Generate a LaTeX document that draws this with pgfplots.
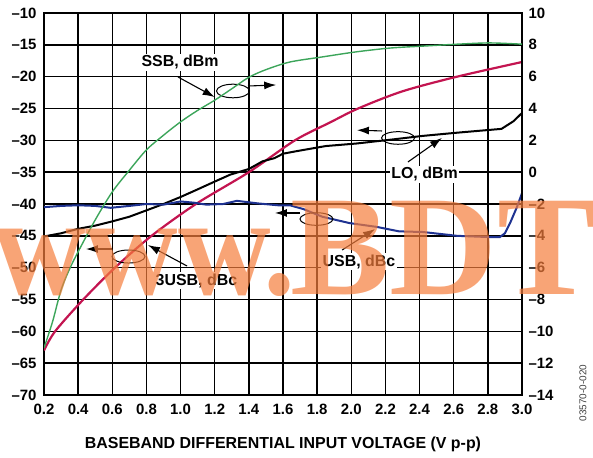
\documentclass[border=0pt]{standalone}
\usepackage{fontspec}
\setmainfont{Liberation Sans}
\newfontfamily\wmfont{Liberation Serif}
\usepackage{pgfplots}
\pgfplotsset{compat=1.18}
\usetikzlibrary{arrows.meta}
\definecolor{cgreen}{RGB}{60,165,90}
\definecolor{cred}{RGB}{195,20,80}
\definecolor{cblue}{RGB}{30,50,145}
\definecolor{wm}{RGB}{245,125,60}
\begin{document}
\begin{tikzpicture}
\useasboundingbox (-44bp,-63bp) rectangle (549bp,395bp);
\pgfplotsset{
  base/.style={scale only axis, width=478bp, height=382bp,
    xmin=0.2, xmax=3.0,
    major tick length=0pt,
    /pgf/number format/assume math mode=true,
    tick label style={font=\bfseries\fontsize{15}{17}\selectfont},
  }
}
\begin{axis}[base,
  ymin=-70, ymax=-10,
  xtick={0.2,0.4,0.6,0.8,1.0,1.2,1.4,1.6,1.8,2.0,2.2,2.4,2.6,2.8,3.0},
  xticklabels={0.2,0.4,0.6,0.8,1.0,1.2,1.4,1.6,1.8,2.0,2.2,2.4,2.6,2.8,3.0},
  ytick={-70,-65,-60,-55,-50,-45,-40,-35,-30,-25,-20,-15,-10},
  yticklabels={–70,–65,–60,–55,–50,–45,–40,–35,–30,–25,–20,–15,–10},
  yticklabel style={xshift=-4bp},
  xticklabel style={yshift=-6bp},
  grid=major,
  major grid style={black, line width=1.4bp},
  axis line style={black, line width=2.2bp},
]
% 3USB, dBc (left axis)
\addplot[cred, line width=2.2bp, smooth] coordinates {
(0.2,-63.0) (0.265,-60.0) (0.43,-55.0) (0.616,-50.0) (0.83,-45.0) (1.09,-40.0)
(1.4,-35.0) (1.67,-30.0) (1.875,-27.2) (2.04,-25.0) (2.3,-22.3) (2.62,-20.0) (3.0,-17.7)};
% LO, dBm (left axis)
\addplot[black, line width=2bp] coordinates {
(0.2,-45.1) (0.3,-44.6) (0.4,-43.9) (0.5,-43.4) (0.59,-42.8) (0.7,-42.0) (0.8,-41.0) (0.9,-40.0) (1.0,-38.9)
(1.1,-37.7) (1.19,-36.6) (1.29,-35.4) (1.4,-34.5) (1.48,-33.3) (1.55,-32.8) (1.6,-32.1) (1.68,-31.7)
(1.85,-30.9) (2.03,-30.5) (2.23,-29.9) (2.42,-29.3) (2.62,-28.8) (2.75,-28.5) (2.88,-28.2)
(2.95,-27.0) (3.0,-25.7)};
% USB, dBc (left axis)
\addplot[cblue, line width=2bp] coordinates {
(0.2,-40.5) (0.3,-40.3) (0.4,-40.2) (0.5,-40.3) (0.59,-40.6) (0.7,-40.3) (0.8,-40.0) (0.9,-40.1)
(1.0,-39.6) (1.08,-39.8) (1.15,-40.1) (1.25,-40.0) (1.33,-39.5) (1.45,-39.9) (1.57,-40.2) (1.64,-40.2)
(1.72,-40.8) (1.83,-42.0) (1.99,-43.0) (2.15,-43.6) (2.28,-44.3) (2.42,-44.4) (2.62,-45.0)
(2.81,-45.2) (2.87,-45.2) (2.9,-44.6) (2.93,-43.0) (2.97,-40.5) (3.0,-38.3)};
% annotations
\tikzset{ann/.style={font=\bfseries\fontsize{16}{18}\selectfont, fill=white, inner sep=1.5bp},
  arr/.style={black, line width=1.1bp, -{Latex[length=12bp,width=8bp]}},
  ell/.style={black, line width=1bp}}
% SSB
\node[ann] at (axis cs:0.997,-17.7) {SSB, dBm};
\draw[arr] (axis cs:0.985,-20.05) -- (axis cs:1.20,-23.2);
\draw[ell] (axis cs:1.307,-22.25) ellipse [x radius=16.5bp, y radius=6.8bp];
\draw[arr] (axis cs:1.395,-21.47) -- (axis cs:1.56,-21.3);
% LO
\node[ann] at (axis cs:2.429,-35.29) {LO, dBm};
\draw[arr] (axis cs:2.332,-33.4) -- (axis cs:2.531,-29.63);
\draw[ell] (axis cs:2.274,-29.63) ellipse [x radius=16.5bp, y radius=6.3bp];
\draw[arr] (axis cs:2.18,-28.53) -- (axis cs:2.033,-28.4);
% USB
\node[ann] at (axis cs:2.045,-49.03) {USB, dBc};
\draw[arr] (axis cs:1.946,-47.23) -- (axis cs:2.139,-43.93);
\draw[ell] (axis cs:1.796,-42.36) ellipse [x radius=16.5bp, y radius=6.3bp];
\draw[arr] (axis cs:1.70,-41.41) -- (axis cs:1.553,-41.41);
% 3USB
\node[ann] at (axis cs:1.093,-52.09) {3USB, dBc};
\draw[arr] (axis cs:1.038,-49.74) -- (axis cs:0.809,-46.44);
\draw[ell] (axis cs:0.695,-48.25) ellipse [x radius=16.5bp, y radius=6.5bp];
\draw[arr] (axis cs:0.604,-47.07) -- (axis cs:0.446,-47.07);
\end{axis}
\begin{axis}[base,
  ymin=-14, ymax=10,
  axis x line=none,
  axis y line*=right,
  axis line style={black, line width=2.2bp},
  ytick={-14,-12,-10,-8,-6,-4,-2,0,2,4,6,8,10},
  yticklabels={–14,–12,–10,–8,–6,–4,–2,0,2,4,6,8,10},
  yticklabel style={xshift=3bp},
]
% SSB, dBm (right axis)
\addplot[cgreen, line width=1.4bp, smooth] coordinates {
(0.2,-11.04) (0.25,-9.4) (0.3,-7.4) (0.35,-6.08) (0.4,-5.0) (0.5,-3.0) (0.6,-1.24) (0.7,0.12)
(0.8,1.4) (0.9,2.32) (1.0,3.16) (1.1,3.88) (1.2,4.52) (1.3,5.24) (1.4,5.96) (1.5,6.44)
(1.64,6.92) (1.83,7.24) (2.03,7.56) (2.23,7.8) (2.42,7.92) (2.62,8.04) (2.81,8.12) (3.0,8.04)};
\end{axis}
\node[font=\bfseries\fontsize{16}{18}\selectfont] at (239bp,-49bp) {BASEBAND DIFFERENTIAL INPUT VOLTAGE (V p-p)};
\node[rotate=90, font=\fontsize{10}{12}\selectfont, text=black!75] at (539bp,2bp) {03570-0-020};
\node[anchor=base west, inner sep=0pt, text=wm, opacity=0.7, xscale=0.90,
  font=\wmfont\bfseries\fontsize{143}{143}\selectfont] at (-51bp,100bp) {www.};
\node[anchor=base west, inner sep=0pt, text=wm, opacity=0.7, xscale=1.05,
  font=\wmfont\bfseries\fontsize{143}{143}\selectfont] at (246bp,100bp) {BDTI};
\end{tikzpicture}
\end{document}
